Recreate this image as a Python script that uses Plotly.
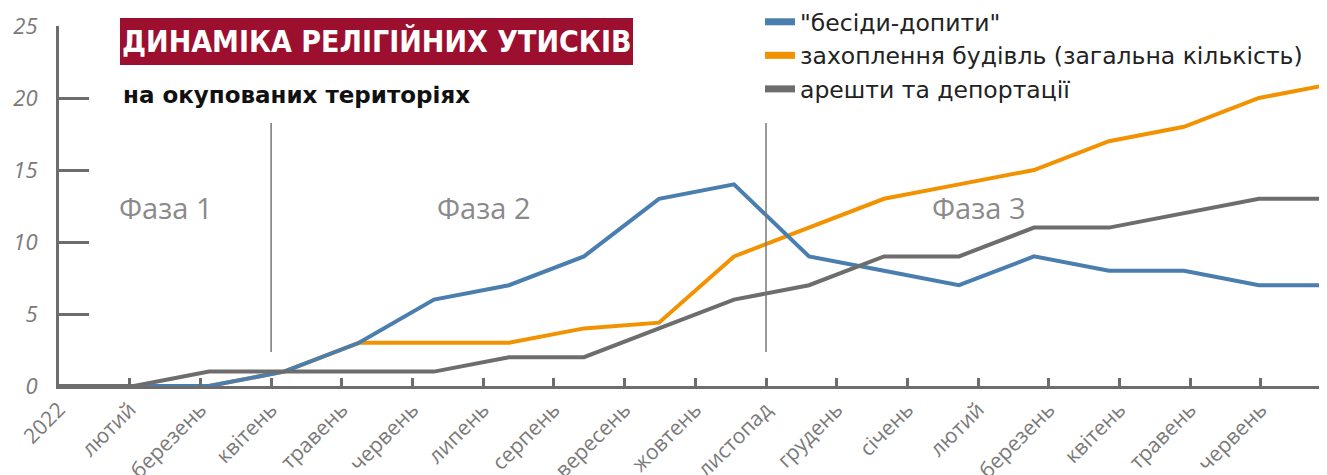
import plotly.graph_objects as go

# ---- data ----
month_labels = ["2022", "лютий", "березень", "квітень", "травень", "червень", "липень",
                "серпень", "вересень", "жовтень", "листопад", "грудень", "січень",
                "лютий", "березень", "квітень", "травень", "червень"]
points = list(range(18))
talks = [0, 0, 0, 1, 3, 6, 7, 9, 13, 14, 9, 8, 7, 9, 8, 8, 7, 7]
seizures = [0, 0, 0, 1, 3, 3, 3, 4, 4.4, 9, 11, 13, 14, 15, 17, 18, 20, 21]
arrests = [0, 0, 1, 1, 1, 1, 2, 2, 4, 6, 7, 9, 9, 11, 11, 12, 13, 13]
series_names = ['"бесіди-допити"', "захоплення будівль (загальна кількість)", "арешти та депортації"]
y_ticks = [0, 5, 10, 15, 20, 25]
phase_labels = ["Фаза 1", "Фаза 2", "Фаза 3"]
phase_pos = [1.5, 6.0, 13.0]
phase_bounds = [3, 10]

OFF = 8  # default page body margin
W, H = 1327 - OFF, 475 - OFF
L, R, T = 59 - OFF, 0, 26 - OFF
B = H - (386 - OFF)
pw, ph = W - L - R, H - T - B

def px(x):  # page pixel -> paper
    return (x - OFF - L) / pw

def py(y):
    return 1 + (T - (y - OFF)) / ph

BLUE = "#4a7eae"
ORANGE = "#f39200"
GRAY = "#6d6d6d"

fig = go.Figure()
order = [(seizures, series_names[1], ORANGE, 2), (talks, series_names[0], BLUE, 1),
         (arrests, series_names[2], GRAY, 3)]
for vals, name, col, rank in order:
    fig.add_trace(go.Scatter(x=points, y=vals, name=name, mode="lines",
                             line=dict(color=col, width=4), showlegend=False,
                             xaxis="x", yaxis="y"))
# legend entries with thicker swatches
for vals, name, col, rank in order:
    fig.add_trace(go.Scatter(x=[None], y=[None], name=name, mode="lines",
                             line=dict(color=col, width=7), legendrank=rank,
                             legendgroup=name, showlegend=True, hoverinfo="skip"))

# invisible trace for label axis
fig.add_trace(go.Scatter(x=list(range(len(month_labels))), y=[0] * len(month_labels),
                         xaxis="x2", yaxis="y", mode="markers", marker=dict(opacity=0),
                         showlegend=False, hoverinfo="skip"))

fig.update_layout(
    width=W, height=H,
    margin=dict(l=L, r=R, t=T, b=B, pad=0, autoexpand=False),
    paper_bgcolor="white", plot_bgcolor="white",
    showlegend=True,
    legend=dict(x=px(760), y=py(0), xanchor="left", yanchor="top",
                font=dict(family="DejaVu Sans", size=23.5, color="#222"),
                traceorder="grouped", tracegroupgap=0, itemwidth=30,
                bgcolor="rgba(0,0,0,0)"),
    xaxis=dict(range=[0, pw / 75.0], showticklabels=False, showline=False,
               showgrid=False, zeroline=False, ticks="", automargin=False),
    xaxis2=dict(range=[0, pw / 70.7], overlaying="x", side="bottom", automargin=False,
                tickmode="array", tickvals=list(range(len(month_labels))),
                ticktext=month_labels, tickangle=-45,
                ticks="inside", ticklen=8, tickwidth=3, tickcolor=GRAY,
                showline=True, linecolor=GRAY, linewidth=3,
                showgrid=False, zeroline=False,
                tickfont=dict(family="Open Sans, DejaVu Sans", size=21, color="#7a7a7a")),
    yaxis=dict(range=[0, 25], tickmode="array", tickvals=y_ticks, automargin=False,
               ticks="inside", ticklen=30, tickwidth=3, tickcolor=GRAY,
               showline=True, linecolor=GRAY, linewidth=3,
               showgrid=False, zeroline=False, ticklabelstandoff=14,
               tickfont=dict(family="Open Sans, DejaVu Sans", size=22, color="#7a7a7a",
                             style="italic")),
)

shapes = []
for b in phase_bounds:
    shapes.append(dict(type="line", xref="x2", yref="y", x0=b, x1=b,
                       y0=(386 - 352) / 14.4, y1=(386 - 123) / 14.4,
                       line=dict(color="#777", width=1.5)))
shapes.append(dict(type="rect", xref="paper", yref="paper",
                   x0=px(120), x1=px(633), y0=py(65), y1=py(18),
                   fillcolor="#9c0f2f", line=dict(width=0), layer="above"))
fig.update_layout(shapes=shapes)

ann = []
for lab, pos in zip(phase_labels, phase_pos):
    ann.append(dict(text=lab, xref="x2", yref="y", x=pos, y=12.4, showarrow=False,
                    font=dict(family="Open Sans, DejaVu Sans", size=29, color="#8a8a8a")))
ann.append(dict(text="<b>ДИНАМІКА РЕЛІГІЙНИХ УТИСКІВ</b>", xref="paper", yref="paper",
                x=px(377), y=py(42), xanchor="center", yanchor="middle", showarrow=False,
                font=dict(family="DejaVu Sans Condensed, Roboto", size=30, color="white")))
ann.append(dict(text="<b>на окупованих територіях</b>", xref="paper", yref="paper",
                x=px(121), y=py(95), xanchor="left", yanchor="middle", showarrow=False,
                font=dict(family="DejaVu Sans", size=23, color="#111")))
fig.update_layout(annotations=ann)

fig.write_html("out.html")
